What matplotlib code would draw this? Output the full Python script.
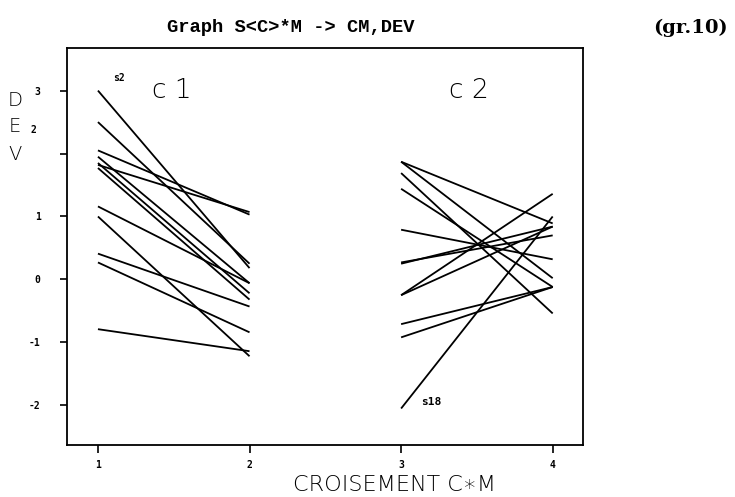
import matplotlib.pyplot as plt

# c1 : mesures en M1 (x=1) et M2 (x=2)
c1_m1 = [3.00, 2.50, 2.05, 1.95, 1.85, 1.82, 1.77, 1.16, 1.00, 0.41, 0.27, -0.79]
c1_m2 = [0.18, 0.25, 1.03, -0.06, -0.22, 1.07, -0.32, -0.06, -1.22, -0.43, -0.84, -1.14]

# c2 : mesures en M1 (x=3) et M2 (x=4)
c2_m1 = [1.87, 1.87, 1.69, 1.44, 0.79, 0.27, 0.25, -0.25, -0.25, -0.71, -0.92, -2.05]
c2_m2 = [0.89, 0.02, -0.54, -0.12, 0.32, 0.70, 0.84, 1.36, 0.84, -0.12, -0.12, 1.00]

x_c1 = [1, 2]
x_c2 = [3, 4]
yticks = [-2, -1, 0, 1, 2, 3]
ytick_labels = ["-2", "-1", "0", "1", "", "3"]

fig = plt.figure(figsize=(7.35, 4.97), dpi=100)
ax = fig.add_axes([0.0912, 0.1046, 0.702, 0.798])

for a, b in zip(c1_m1, c1_m2):
    ax.plot(x_c1, [a, b], color="black", lw=1.3, solid_capstyle="butt")
for a, b in zip(c2_m1, c2_m2):
    ax.plot(x_c2, [a, b], color="black", lw=1.3, solid_capstyle="butt")

ax.set_xlim(0.796, 4.2)
ax.set_ylim(-2.63, 3.67)

ax.set_xticks([1, 2, 3, 4])
ax.set_xticklabels(["1", "2", "3", "4"], fontsize=7, fontweight="bold",
                   family="DejaVu Sans Mono")
ax.set_yticks(yticks)
ax.set_yticklabels(ytick_labels, fontsize=7, fontweight="bold",
                   family="DejaVu Sans Mono")
ax.tick_params(axis="both", direction="out", width=1.2, color="black")
ax.tick_params(axis="y", length=5, pad=14)
ax.tick_params(axis="x", length=5.5, pad=5)
for sp in ax.spines.values():
    sp.set_linewidth(1.3)

# noms des groupes et des sujets extremes
ax.text(1.49, 3.0, "c 1", fontsize=19, fontweight="light", family="DejaVu Sans",
        ha="center", va="center")
ax.text(3.45, 3.0, "c 2", fontsize=19, fontweight="light", family="DejaVu Sans",
        ha="center", va="center")
ax.text(1.1, 3.12, "s2", fontsize=7, fontweight="bold", family="DejaVu Sans Mono",
        ha="left", va="bottom")
ax.text(3.13, -1.95, "s18", fontsize=8, fontweight="bold", family="DejaVu Sans Mono",
        ha="left", va="center")

# etiquette verticale DEV (le 2 de l'axe est imprime a cote du E)
for i, ch in enumerate("DEV"):
    fig.text(0.02, 1 - (100 + 27 * i) / 497, ch, fontsize=14, fontweight="light",
             family="DejaVu Sans", ha="center", va="center")
fig.text(33 / 735, 1 - 130 / 497, "2", fontsize=7, fontweight="bold",
         family="DejaVu Sans Mono", ha="center", va="center")

fig.text(0.537, 1 - 485 / 497, "CROISEMENT C\u2217M", fontsize=16, fontweight="light",
         family="DejaVu Sans", ha="center", va="center")

fig.text(0.395, 1 - 28 / 497, "Graph S<C>*M -> CM,DEV", fontsize=13.5,
         fontweight="bold", family="Liberation Mono", ha="center", va="center")
fig.text(0.94, 1 - 28 / 497, "(gr.10)", fontsize=14, fontweight="bold",
         family="DejaVu Serif", ha="center", va="center")

fig.savefig("out.png", dpi=100, facecolor="white")
